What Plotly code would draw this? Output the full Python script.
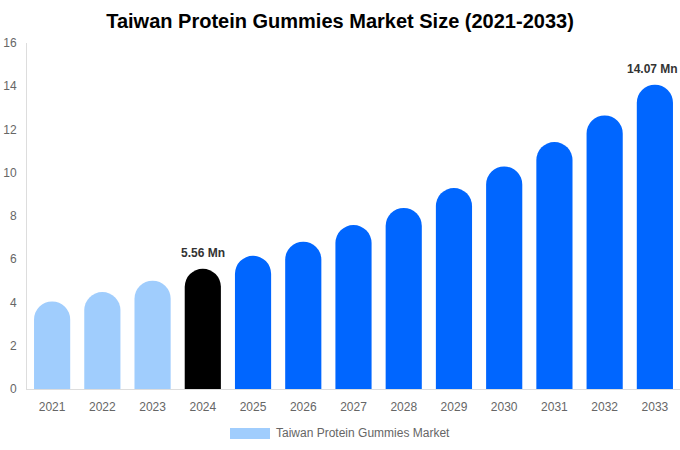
import plotly.graph_objects as go

years = ["2021", "2022", "2023", "2024", "2025", "2026", "2027", "2028", "2029", "2030", "2031", "2032", "2033"]
values = [4.05, 4.48, 5.01, 5.56, 6.16, 6.81, 7.58, 8.37, 9.29, 10.29, 11.42, 12.65, 14.07]
bar_colors = ["#a0cdfd"] * 3 + ["#000000"] + ["#0066ff"] * 9
labeled = {"2024": "5.56 Mn", "2033": "14.07 Mn"}
series_name = "Taiwan Protein Gummies Market"
title = "Taiwan Protein Gummies Market Size (2021-2033)"

font = "Liberation Sans, Arial, sans-serif"

fig = go.Figure()
fig.add_trace(go.Bar(
    x=years, y=values, name=series_name,
    marker=dict(color=bar_colors, cornerradius="50%", line=dict(width=0)),
    showlegend=False, hoverinfo="x+y",
))

for i, (yr, v) in enumerate(zip(years, values)):
    if yr in labeled:
        fig.add_annotation(x=i, y=v, xref="x", yref="y", text="<b>" + labeled[yr] + "</b>",
                           showarrow=False, yanchor="bottom", yshift=7,
                           xshift=-2 if i == len(years) - 1 else 0,
                           font=dict(family=font, size=12, color="#333333"))

# legend swatch + text
fig.add_shape(type="rect", xref="paper", yref="paper",
              x0=(230 - 27) / 653, x1=(270 - 27) / 653,
              y0=(389 - 439) / 346, y1=(389 - 428) / 346,
              fillcolor="#a0cdfd", line=dict(width=0))
fig.add_annotation(xref="paper", yref="paper", x=(274 - 27) / 653, y=(389 - 433) / 346,
                   text=series_name, showarrow=False, xanchor="left", yanchor="middle",
                   font=dict(family=font, size=12, color="#666666"))

fig.update_layout(
    width=680, height=450,
    margin=dict(l=27, r=0, t=43, b=61, autoexpand=False),
    paper_bgcolor="white", plot_bgcolor="white",
    title=dict(text="<b>" + title + "</b>", x=0.5, xanchor="center", y=1 - 21 / 450, yanchor="middle",
               font=dict(family=font, size=20, color="#000000")),
    bargap=0.28,
    font=dict(family=font),
    xaxis=dict(type="category", range=[-0.5, len(years) - 0.5], showline=True, linecolor="#dddddd",
               linewidth=1, ticks="", showgrid=False, ticklabelstandoff=7, automargin=False,
               tickfont=dict(size=12, color="#666666")),
    yaxis=dict(range=[0, 16], dtick=2, showline=True, linecolor="#dddddd", linewidth=1,
               showgrid=False, zeroline=False, ticks="", ticklabelstandoff=7, automargin=False,
               tickfont=dict(size=12, color="#666666")),
)

fig.write_html("out.html", config={"displayModeBar": False},
               post_script="document.body.style.margin='0';")
